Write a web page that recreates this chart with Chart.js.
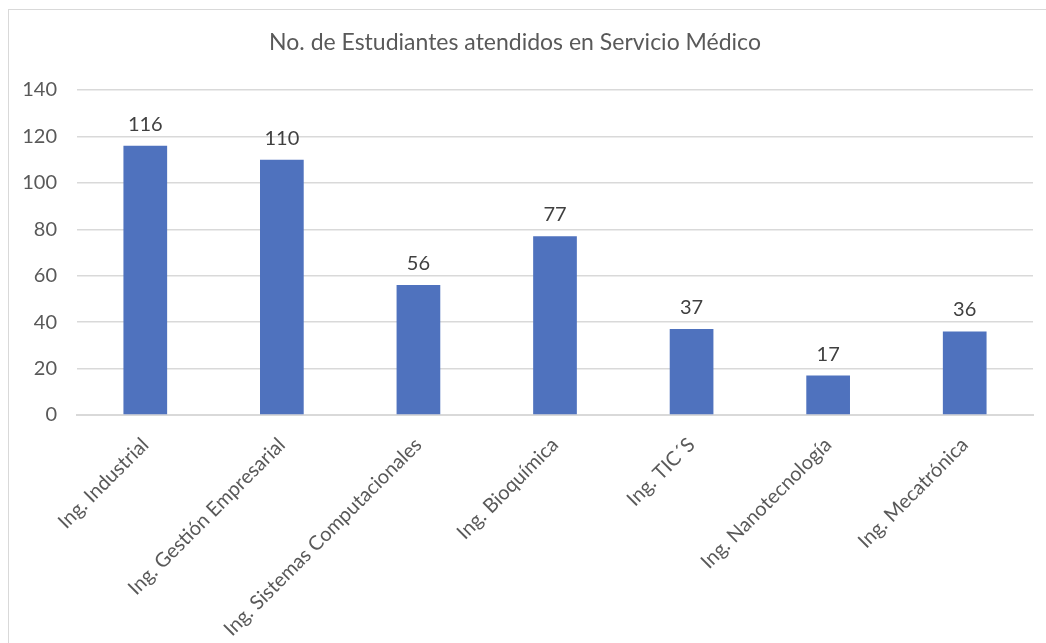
<!DOCTYPE html>
<html>
<head>
<meta charset="utf-8">
<script src="https://cdn.jsdelivr.net/npm/chart.js@4"></script>
<style>
  html, body { margin: 0; padding: 0; background: #fff; }
  #wrap { width: 1046px; height: 643px; position: relative; }
</style>
</head>
<body>
<div id="wrap"><canvas id="chart"></canvas></div>
<script>
// Data
var chartTitle = "No. de Estudiantes atendidos en Servicio Médico";
var carreras = ["Ing. Industrial", "Ing. Gestión Empresarial", "Ing. Sistemas Computacionales", "Ing. Bioquímica", "Ing. TIC´S", "Ing. Nanotecnología", "Ing. Mecatrónica"];
var alumnos = [116, 110, 56, 77, 37, 17, 36];
var yTicks = [0, 20, 40, 60, 80, 100, 120, 140];

var FONT = "Lato, 'Open Sans', sans-serif";

// frame + title, drawn in the excel style
var frameAndTitle = {
    id: "frameAndTitle",
    beforeDraw: function(chart){
        var ctx = chart.ctx;
        ctx.save();
        ctx.fillStyle = "#fff";
        ctx.fillRect(0, 0, chart.width, chart.height);
        ctx.strokeStyle = "#D9D9D9";
        ctx.lineWidth = 1;
        ctx.strokeRect(8.5, 9.5, chart.width + 20, chart.height + 20);
        ctx.fillStyle = "#595959";
        ctx.font = "23px " + FONT;
        ctx.textAlign = "center";
        ctx.textBaseline = "middle";
        ctx.fillText(chartTitle, 515, 43);
        ctx.restore();
    }
};

// value labels on top of each bar
var barValues = {
    id: "barValues",
    afterDatasetsDraw: function(chart){
        var ctx = chart.ctx;
        var meta = chart.getDatasetMeta(0);
        ctx.save();
        ctx.fillStyle = "#404040";
        ctx.font = "20px " + FONT;
        ctx.textAlign = "center";
        ctx.textBaseline = "alphabetic";
        meta.data.forEach(function(bar, i){
            ctx.fillText(alumnos[i], bar.x, bar.y - 15);
        });
        ctx.restore();
    }
};

new Chart(document.getElementById("chart"), {
    type: "bar",
    data: {
        labels: carreras,
        datasets: [{
            label: "Alumnos",
            data: alumnos,
            backgroundColor: "#4F72BE",
            borderWidth: 0,
            barPercentage: 0.32,
            categoryPercentage: 1
        }]
    },
    options: {
        responsive: true,
        maintainAspectRatio: false,
        animation: false,
        layout: { padding: { top: 90, right: 13, left: 0, bottom: 0 } },
        plugins: {
            legend: { display: false },
            title: { display: false },
            tooltip: { enabled: false }
        },
        scales: {
            x: {
                grid: { display: false, drawTicks: false },
                border: { display: true, color: "#D9D9D9", width: 2 },
                ticks: {
                    color: "#595959",
                    font: { family: FONT, size: 20 },
                    minRotation: 45,
                    maxRotation: 45,
                    padding: 18
                },
                afterFit: function(scale){ scale.height = 228; }
            },
            y: {
                min: 0,
                max: 140,
                afterBuildTicks: function(scale){
                    scale.ticks = yTicks.map(function(v){ return {value: v}; });
                },
                grid: { color: "#D9D9D9", lineWidth: 1.5, drawTicks: false },
                border: { display: false },
                ticks: {
                    color: "#595959",
                    font: { family: FONT, size: 20 },
                    padding: 20
                },
                afterFit: function(scale){ scale.width = 77; }
            }
        }
    },
    plugins: [frameAndTitle, barValues]
});
</script>
</body>
</html>
